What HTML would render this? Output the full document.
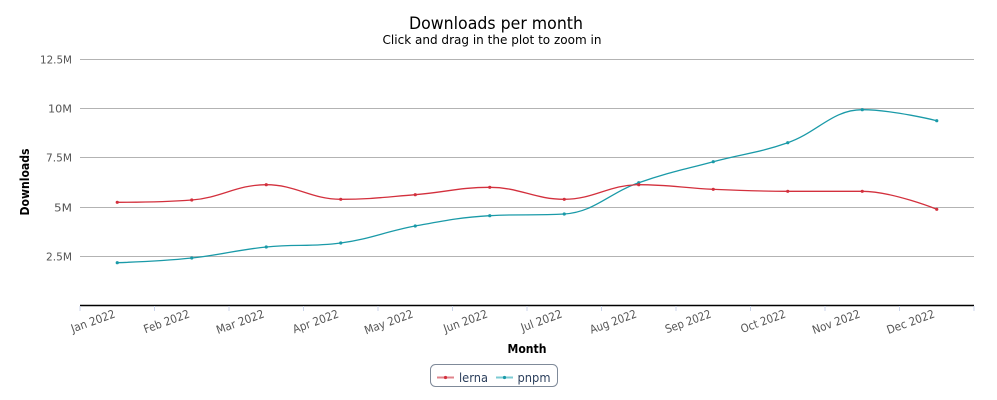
<!DOCTYPE html>
<html>
<head>
<meta charset="utf-8">
<style>
  html,body{margin:0;padding:0;background:#fff;}
  svg{display:block;}
  text{font-family:"DejaVu Sans","Liberation Sans",sans-serif;}
</style>
</head>
<body>
<svg width="997" height="400" viewBox="0 0 997 400" xmlns="http://www.w3.org/2000/svg">
  <rect x="0" y="0" width="997" height="400" fill="#ffffff"/>

  <!-- Title -->
  <text x="496" y="29" text-anchor="middle" font-size="16.5" fill="#000" textLength="174" lengthAdjust="spacingAndGlyphs">Downloads per month</text>
  <text x="492" y="44" text-anchor="middle" font-size="12" fill="#000" textLength="219" lengthAdjust="spacingAndGlyphs">Click and drag in the plot to zoom in</text>

  <!-- Gridlines -->
  <g stroke="#b3b3b3" stroke-width="1">
    <line x1="80" y1="59.5" x2="974" y2="59.5"/>
    <line x1="80" y1="108.5" x2="974" y2="108.5"/>
    <line x1="80" y1="157.5" x2="974" y2="157.5"/>
    <line x1="80" y1="207.5" x2="974" y2="207.5"/>
    <line x1="80" y1="256.5" x2="974" y2="256.5"/>
  </g>

  <!-- Y labels -->
  <g font-size="11" fill="#555" text-anchor="end" font-family="Liberation Sans, sans-serif">
    <text x="72" y="63.5" textLength="32" lengthAdjust="spacingAndGlyphs">12.5M</text>
    <text x="72" y="112.5" textLength="24" lengthAdjust="spacingAndGlyphs">10M</text>
    <text x="72" y="161.5" textLength="26" lengthAdjust="spacingAndGlyphs">7.5M</text>
    <text x="72" y="211.5" textLength="18" lengthAdjust="spacingAndGlyphs">5M</text>
    <text x="72" y="260.5" textLength="26" lengthAdjust="spacingAndGlyphs">2.5M</text>
  </g>

  <!-- Y axis title -->
  <text transform="translate(29,182) rotate(-90)" text-anchor="middle" font-size="12" font-weight="bold" fill="#000" font-family="Liberation Sans, sans-serif" textLength="67" lengthAdjust="spacingAndGlyphs">Downloads</text>

  <!-- X axis -->
  <line x1="80" y1="305.5" x2="974" y2="305.5" stroke="#000" stroke-width="1.5"/>
  <g stroke="#ccd6eb" stroke-width="1">
    <line x1="80" y1="306" x2="80" y2="311"/>
    <line x1="154.5" y1="306" x2="154.5" y2="311"/>
    <line x1="229" y1="306" x2="229" y2="311"/>
    <line x1="303.5" y1="306" x2="303.5" y2="311"/>
    <line x1="378" y1="306" x2="378" y2="311"/>
    <line x1="452.5" y1="306" x2="452.5" y2="311"/>
    <line x1="527" y1="306" x2="527" y2="311"/>
    <line x1="601.5" y1="306" x2="601.5" y2="311"/>
    <line x1="676" y1="306" x2="676" y2="311"/>
    <line x1="750.5" y1="306" x2="750.5" y2="311"/>
    <line x1="825" y1="306" x2="825" y2="311"/>
    <line x1="899.5" y1="306" x2="899.5" y2="311"/>
    <line x1="974" y1="306" x2="974" y2="311"/>
  </g>

  <!-- X labels -->
  <g font-size="11.5" fill="#555" text-anchor="end" font-family="DejaVu Sans, sans-serif">
    <text transform="translate(116,317) rotate(-20)" textLength="46" lengthAdjust="spacingAndGlyphs">Jan 2022</text>
    <text transform="translate(190.5,317) rotate(-20)" textLength="48" lengthAdjust="spacingAndGlyphs">Feb 2022</text>
    <text transform="translate(265,317) rotate(-20)" textLength="50" lengthAdjust="spacingAndGlyphs">Mar 2022</text>
    <text transform="translate(339.5,317) rotate(-20)" textLength="48" lengthAdjust="spacingAndGlyphs">Apr 2022</text>
    <text transform="translate(414,317) rotate(-20)" textLength="51" lengthAdjust="spacingAndGlyphs">May 2022</text>
    <text transform="translate(488.5,317) rotate(-20)" textLength="46" lengthAdjust="spacingAndGlyphs">Jun 2022</text>
    <text transform="translate(563,317) rotate(-20)" textLength="43" lengthAdjust="spacingAndGlyphs">Jul 2022</text>
    <text transform="translate(637.5,317) rotate(-20)" textLength="49" lengthAdjust="spacingAndGlyphs">Aug 2022</text>
    <text transform="translate(712,317) rotate(-20)" textLength="48" lengthAdjust="spacingAndGlyphs">Sep 2022</text>
    <text transform="translate(786.5,317) rotate(-20)" textLength="47" lengthAdjust="spacingAndGlyphs">Oct 2022</text>
    <text transform="translate(861,317) rotate(-20)" textLength="50" lengthAdjust="spacingAndGlyphs">Nov 2022</text>
    <text transform="translate(935.5,317) rotate(-20)" textLength="50" lengthAdjust="spacingAndGlyphs">Dec 2022</text>
  </g>

  <!-- X axis title -->
  <text x="527" y="353" text-anchor="middle" font-size="12.5" font-weight="bold" fill="#000" font-family="Liberation Sans, sans-serif" textLength="39" lengthAdjust="spacingAndGlyphs">Month</text>

  <!-- Series: pnpm -->
  <path fill="none" stroke="#1a9aa8" stroke-width="1.3" d="M 117.25 262.7
    C 117.25 262.7, 161.95 261.14, 191.75 258
    C 221.55 254.86, 236.45 250, 266.25 247
    C 296.05 244, 310.95 247, 340.75 243
    C 370.55 239, 385.45 231.46, 415.25 226
    C 445.05 220.54, 459.95 217.4, 489.75 215.7
    C 519.55 214, 534.45 215.7, 564.25 214
    C 594.05 212.3, 608.95 193.16, 638.75 182.7
    C 668.55 172.24, 683.45 169.7, 713.25 161.7
    C 743.05 153.7, 757.95 153.1, 787.75 142.7
    C 817.55 132.3, 832.45 109.7, 862.25 109.7
    C 892.05 109.7, 936.75 120.7, 936.75 120.7"/>
  <g fill="#1a9aa8">
    <circle cx="117.25" cy="262.7" r="1.6"/>
    <circle cx="191.75" cy="258" r="1.6"/>
    <circle cx="266.25" cy="247" r="1.6"/>
    <circle cx="340.75" cy="243" r="1.6"/>
    <circle cx="415.25" cy="226" r="1.6"/>
    <circle cx="489.75" cy="215.7" r="1.6"/>
    <circle cx="564.25" cy="214" r="1.6"/>
    <circle cx="638.75" cy="182.7" r="1.6"/>
    <circle cx="713.25" cy="161.7" r="1.6"/>
    <circle cx="787.75" cy="142.7" r="1.6"/>
    <circle cx="862.25" cy="109.7" r="1.6"/>
    <circle cx="936.75" cy="120.7" r="1.6"/>
  </g>

  <!-- Series: lerna -->
  <path fill="none" stroke="#d3303d" stroke-width="1.3" d="M 117.25 202.3
    C 117.25 202.3, 161.95 202.3, 191.75 200
    C 221.55 197.7, 236.45 184.7, 266.25 184.7
    C 296.05 184.7, 310.95 199.3, 340.75 199.3
    C 370.55 199.3, 385.45 197.1, 415.25 194.7
    C 445.05 192.3, 459.95 187.3, 489.75 187.3
    C 519.55 187.3, 534.45 199.3, 564.25 199.3
    C 594.05 199.3, 608.95 184.7, 638.75 184.7
    C 668.55 184.7, 683.45 187.98, 713.25 189.3
    C 743.05 190.62, 757.95 191.3, 787.75 191.3
    C 817.55 191.3, 832.45 191.3, 862.25 191.3
    C 892.05 191.3, 936.75 209.3, 936.75 209.3"/>
  <g fill="#d3303d">
    <circle cx="117.25" cy="202.3" r="1.6"/>
    <circle cx="191.75" cy="200" r="1.6"/>
    <circle cx="266.25" cy="184.7" r="1.6"/>
    <circle cx="340.75" cy="199.3" r="1.6"/>
    <circle cx="415.25" cy="194.7" r="1.6"/>
    <circle cx="489.75" cy="187.3" r="1.6"/>
    <circle cx="564.25" cy="199.3" r="1.6"/>
    <circle cx="638.75" cy="184.7" r="1.6"/>
    <circle cx="713.25" cy="189.3" r="1.6"/>
    <circle cx="787.75" cy="191.3" r="1.6"/>
    <circle cx="862.25" cy="191.3" r="1.6"/>
    <circle cx="936.75" cy="209.3" r="1.6"/>
  </g>

  <!-- Legend -->
  <rect x="430.5" y="364.5" width="127" height="22" rx="5" ry="5" fill="#fff" stroke="#7f8a99" stroke-width="1"/>
  <line x1="437" y1="377.5" x2="454" y2="377.5" stroke="#e0848c" stroke-width="2"/>
  <circle cx="445.5" cy="377.5" r="1.6" fill="#d3303d"/>
  <text x="459" y="382" font-size="12" fill="#2b3f5c" font-family="DejaVu Sans, sans-serif" textLength="29" lengthAdjust="spacingAndGlyphs">lerna</text>
  <line x1="496" y1="377.5" x2="513" y2="377.5" stroke="#7ccbd3" stroke-width="2"/>
  <circle cx="504.5" cy="377.5" r="1.6" fill="#1a9aa8"/>
  <text x="517.5" y="382" font-size="12" fill="#2b3f5c" font-family="DejaVu Sans, sans-serif" textLength="33" lengthAdjust="spacingAndGlyphs">pnpm</text>
</svg>
</body>
</html>
